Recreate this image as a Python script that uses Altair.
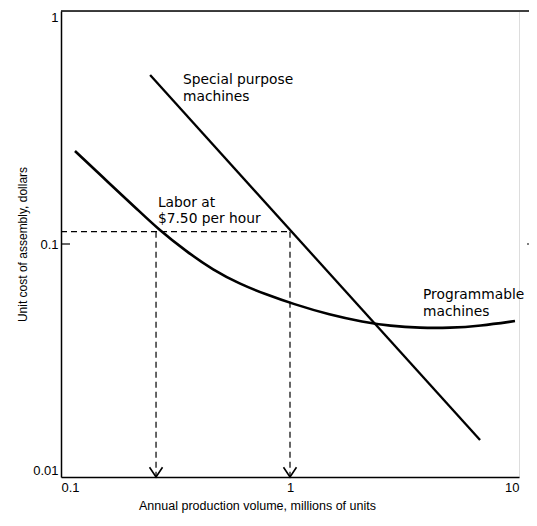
import altair as alt
import pandas as pd

# Programmable machines curve
prog_x = [0.1151, 0.1637, 0.2147, 0.2652, 0.3549, 0.4611, 0.6047, 0.7776, 1.031,
          1.495, 2.084, 2.733, 3.696, 4.996, 6.755, 9.605]
prog_y = [0.2506, 0.1809, 0.1413, 0.1160, 0.0924, 0.0774, 0.0673, 0.0610, 0.0553,
          0.0496, 0.0463, 0.0445, 0.0436, 0.0436, 0.0445, 0.0467]

# Special purpose machines line
spec_x = [0.245, 6.76]
spec_y = [0.531, 0.0144]

# Labor at $7.50 per hour guide lines
labor_cost = 0.113
guide_x = [0.26, 1.0]
axis_min_x, axis_min_y = 0.1, 0.01

# Annotations
ann_text = ["Special purpose", "machines", "Labor at", "$7.50 per hour", "Programmable", "machines"]
ann_x = [0.341, 0.341, 0.265, 0.265, 3.81, 3.81]
ann_y = [0.506, 0.428, 0.150, 0.128, 0.0604, 0.0510]

W, H = 458, 466
FONT = "Liberation Sans"

xs = alt.Scale(type="log", domain=[0.1, 10], nice=False)
ys = alt.Scale(type="log", domain=[0.01, 1], nice=False)

prog_df = pd.DataFrame({"x": prog_x, "y": prog_y})
spec_df = pd.DataFrame({"x": spec_x, "y": spec_y})

base_axes = alt.Chart(pd.DataFrame({"x": [0.1], "y": [0.01]})).mark_point(opacity=0).encode(
    x=alt.X("x:Q", scale=xs,
            axis=alt.Axis(values=[0.1, 1, 10], format="~g", title="Annual production volume, millions of units",
                          grid=False, ticks=False, domainColor="black", domainWidth=1.5,
                          labelFont=FONT, labelFontSize=13, labelColor="black", labelPadding=4,
                          titleFont=FONT, titleFontSize=12.5, titleFontWeight="normal", titleColor="black",
                          titleX=196, titleY=28, titleBaseline="middle", labelFlush=True)),
    y=alt.Y("y:Q", scale=ys,
            axis=alt.Axis(values=[0.01, 0.1, 1], format="~g", title="Unit cost of assembly, dollars",
                          grid=False, ticks=False, domainColor="black", domainWidth=1.5,
                          labelFont=FONT, labelFontSize=13, labelColor="black", labelPadding=3,
                          titleFont=FONT, titleFontSize=12, titleFontWeight="normal", titleColor="black",
                          titleX=-39, titleY=233, titleBaseline="middle", titleAngle=-90, labelFlush=True)),
)

prog = alt.Chart(prog_df).mark_line(color="black", strokeWidth=2.6, interpolate="basis").encode(
    x=alt.X("x:Q", scale=xs), y=alt.Y("y:Q", scale=ys))
spec = alt.Chart(spec_df).mark_line(color="black", strokeWidth=2.3).encode(
    x=alt.X("x:Q", scale=xs), y=alt.Y("y:Q", scale=ys))

guide_df = pd.DataFrame({
    "x": [axis_min_x] + guide_x,
    "x2": [guide_x[1]] + guide_x,
    "y": [labor_cost, labor_cost, labor_cost],
    "y2": [labor_cost, axis_min_y, axis_min_y],
})
guides = alt.Chart(guide_df).mark_rule(color="black", strokeWidth=1.2, strokeDash=[6, 4]).encode(
    x=alt.X("x:Q", scale=xs), x2="x2:Q", y=alt.Y("y:Q", scale=ys), y2="y2:Q")

arrow_df = pd.DataFrame({"x": guide_x, "y": [axis_min_y, axis_min_y]})
arrows = alt.Chart(arrow_df).mark_point(
    shape="M-1,-1.5L0,0L1,-1.5", size=169, filled=False, color="black", strokeWidth=1.6, opacity=1
).encode(x=alt.X("x:Q", scale=xs), y=alt.Y("y:Q", scale=ys))

ann_df = pd.DataFrame({"t": ann_text, "x": ann_x, "y": ann_y})
ann = alt.Chart(ann_df).mark_text(align="left", baseline="middle", font="DejaVu Sans", fontSize=13.8,
                                  color="black").encode(
    x=alt.X("x:Q", scale=xs), y=alt.Y("y:Q", scale=ys), text="t:N")

# frame details: top border and inward tick at 0.1
top_line = alt.Chart(pd.DataFrame({"a": [0]})).mark_rule(color="black", strokeWidth=1.5).encode(
    x=alt.value(0), x2=alt.value(W + 18), y=alt.value(0))
tick_df = pd.DataFrame({"y": [0.1]})
left_tick = alt.Chart(tick_df).mark_rule(color="black", strokeWidth=1.2).encode(
    x=alt.value(0), x2=alt.value(9), y=alt.Y("y:Q", scale=ys))
right_tick = alt.Chart(tick_df).mark_rule(color="black", strokeWidth=1.2).encode(
    x=alt.value(W + 8), x2=alt.value(W + 16), y=alt.Y("y:Q", scale=ys))

chart = alt.layer(base_axes, guides, prog, spec, arrows, ann, top_line, left_tick, right_tick).properties(
    width=W, height=H,
    autosize=alt.AutoSizeParams(type="none"),
    padding={"left": 53, "top": 3, "right": 10, "bottom": 40},
).configure_view(stroke=None).configure(background="white")

chart.save("out.html", embed_options={"renderer": "svg", "actions": False})
